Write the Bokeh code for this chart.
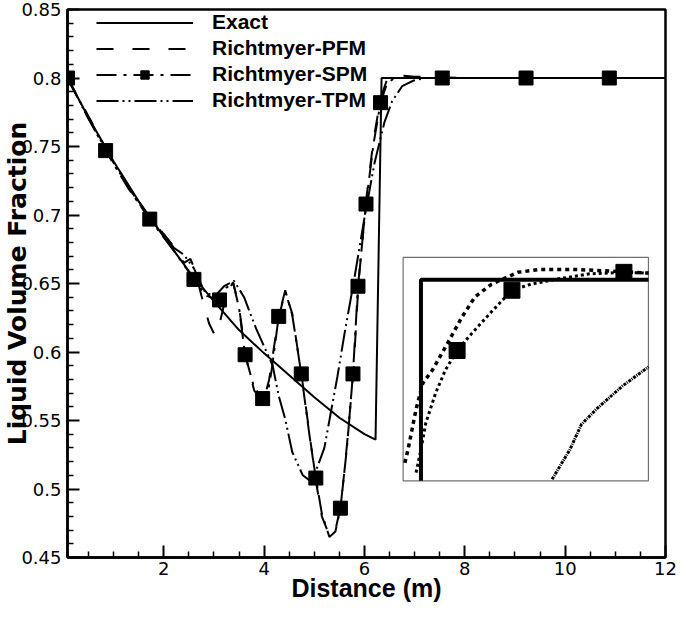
from bokeh.plotting import figure
from bokeh.models import Range1d, FixedTicker, Legend, LegendItem
from bokeh.embed import file_html
from bokeh.resources import INLINE

# ---------------- data ----------------
X_TICKS = [2, 4, 6, 8, 10, 12]
X_TICK_LABELS = ["2", "4", "6", "8", "10", "12"]
Y_TICKS = [0.45, 0.5, 0.55, 0.6, 0.65, 0.7, 0.75, 0.8, 0.85]
Y_TICK_LABELS = ["0.45", "0.5", "0.55", "0.6", "0.65", "0.7", "0.75", "0.8", "0.85"]

exact_x = [0.08, 0.5, 1.0, 1.5, 2.0, 2.5, 3.0, 3.5, 4.0, 4.5, 5.0, 5.5, 6.0, 6.22, 6.34, 12.0]
exact_y = [0.800, 0.771, 0.739, 0.710, 0.684, 0.659, 0.637, 0.616, 0.599, 0.583, 0.567, 0.552, 0.540, 0.536, 0.800, 0.800]

pfm_x = [0.08, 0.5, 0.9, 1.3, 1.7, 2.0, 2.2, 2.4, 2.53, 2.62, 2.75, 2.9, 3.02, 3.12, 3.25, 3.38,
         3.5, 3.63, 3.8, 3.98, 4.1, 4.28, 4.42, 4.56, 4.75, 5.03, 5.15, 5.3, 5.42, 5.53, 5.65,
         5.78, 5.88, 6.03, 6.18, 6.32, 6.45, 6.6, 7.0, 8.0, 12.0]
pfm_y = [0.800, 0.772, 0.745, 0.721, 0.699, 0.686, 0.677, 0.665, 0.668, 0.660, 0.641, 0.621, 0.612, 0.622, 0.642, 0.651,
         0.633, 0.597, 0.572, 0.563, 0.580, 0.624, 0.644, 0.628, 0.582, 0.506, 0.480, 0.466, 0.470, 0.488, 0.532,
         0.586, 0.650, 0.710, 0.755, 0.785, 0.799, 0.802, 0.801, 0.800, 0.800]

spm_x = [0.08, 0.5, 0.84, 1.3, 1.72, 2.2, 2.6, 2.85, 3.11, 3.25, 3.38, 3.5, 3.62, 3.8, 3.97, 4.05,
         4.15, 4.29, 4.42, 4.56, 4.74, 4.9, 5.03, 5.15, 5.3, 5.42, 5.52, 5.65, 5.77, 5.87, 6.03,
         6.18, 6.32, 6.45, 6.6, 7.55, 9.22, 10.88, 12.0]
spm_y = [0.800, 0.771, 0.747, 0.719, 0.697, 0.674, 0.653, 0.641, 0.638, 0.647, 0.651, 0.632, 0.598, 0.574, 0.566, 0.565,
         0.587, 0.626, 0.645, 0.627, 0.584, 0.540, 0.508, 0.482, 0.465, 0.469, 0.486, 0.530, 0.584, 0.648, 0.708,
         0.752, 0.782, 0.796, 0.800, 0.800, 0.800, 0.800, 0.800]
spm_marker_x = [0.08, 0.84, 1.72, 2.60, 3.11, 3.62, 3.97, 4.29, 4.74, 5.03, 5.52, 5.77, 5.87, 6.03, 6.32, 7.55, 9.22, 10.88]
spm_marker_y = [0.800, 0.747, 0.697, 0.653, 0.638, 0.598, 0.566, 0.626, 0.584, 0.508, 0.486, 0.584, 0.648, 0.708, 0.782, 0.800, 0.800, 0.800]

tpm_x = [0.08, 0.5, 0.9, 1.3, 1.7, 2.0, 2.2, 2.4, 2.6, 2.8, 3.0, 3.2, 3.4, 3.6, 3.84, 4.0, 4.17,
         4.29, 4.42, 4.56, 4.77, 4.95, 5.2, 5.46, 5.6, 5.79, 6.0, 6.2, 6.4, 6.55, 6.75, 6.97, 7.2, 12.0]
tpm_y = [0.800, 0.770, 0.744, 0.720, 0.698, 0.686, 0.676, 0.671, 0.661, 0.645, 0.640, 0.648, 0.652, 0.640, 0.617, 0.604, 0.590,
         0.568, 0.551, 0.527, 0.510, 0.505, 0.530, 0.582, 0.613, 0.652, 0.698, 0.738, 0.768, 0.783, 0.794, 0.798, 0.800, 0.800]

# inset (magnified corner of the shock)
inset_exact_x = [6.34, 6.34, 6.85]
inset_exact_y = [0.773, 0.800, 0.800]
inset_pfm_x = [6.304, 6.311, 6.329, 6.344, 6.366, 6.399, 6.432, 6.461, 6.498, 6.557, 6.608, 6.681, 6.755, 6.85]
inset_pfm_y = [0.7754, 0.7772, 0.7826, 0.7861, 0.7879, 0.7914, 0.7950, 0.7977, 0.7994, 0.8010, 0.8014, 0.8014, 0.8012, 0.8009]
inset_spm_x = [6.329, 6.340, 6.351, 6.373, 6.395, 6.421, 6.454, 6.498, 6.544, 6.586, 6.645, 6.718, 6.795, 6.85]
inset_spm_y = [0.7741, 0.7772, 0.7808, 0.7848, 0.7879, 0.7905, 0.7928, 0.7957, 0.7986, 0.7994, 0.8001, 0.8008, 0.8010, 0.8009]
inset_spm_marker_x = [6.421, 6.544, 6.795]
inset_spm_marker_y = [0.7905, 0.7986, 0.8010]
inset_tpm_x = [6.634, 6.674, 6.700, 6.733, 6.791, 6.85]
inset_tpm_y = [0.7732, 0.7772, 0.7806, 0.7826, 0.7857, 0.7883]

# ---------------- layout constants ----------------
X_START, X_END = 0.08, 12.0
Y_START, Y_END = 0.45, 0.85
INSET_X = (6.30, 6.85)          # inset data range
INSET_Y = (0.773, 0.803)
BOX_L, BOX_R, BOX_B, BOX_T = 6.77, 11.66, 0.506, 0.669   # inset box in main coordinates

TICK_FONT = "DejaVu Sans"

p = figure(width=677, height=606, output_backend="svg", toolbar_location=None,
           x_range=Range1d(X_START, X_END), y_range=Range1d(Y_START, Y_END),
           min_border_left=61, min_border_right=12, min_border_top=9, min_border_bottom=49)
p.background_fill_color = "white"
p.border_fill_color = "white"
p.grid.visible = False
p.outline_line_color = "black"
p.outline_line_width = 2.5

# extra ranges so the inset data maps onto the inset box
sx = (INSET_X[1] - INSET_X[0]) / (BOX_R - BOX_L)
sy = (INSET_Y[1] - INSET_Y[0]) / (BOX_T - BOX_B)
p.extra_x_ranges = {"ix": Range1d(INSET_X[0] - (BOX_L - X_START) * sx, INSET_X[1] + (X_END - BOX_R) * sx)}
p.extra_y_ranges = {"iy": Range1d(INSET_Y[0] - (BOX_B - Y_START) * sy, INSET_Y[1] + (Y_END - BOX_T) * sy)}

# axes
x_minor = [0.5 * i for i in range(1, 24) if i % 4 != 0]
y_minor = [round(0.45 + 0.01 * i, 2) for i in range(1, 40) if i % 5 != 0]
p.xaxis.ticker = FixedTicker(ticks=X_TICKS, minor_ticks=x_minor)
p.yaxis.ticker = FixedTicker(ticks=Y_TICKS, minor_ticks=y_minor)
p.xaxis.major_label_overrides = {t: l for t, l in zip(X_TICKS, X_TICK_LABELS)}
p.yaxis.major_label_overrides = {t: l for t, l in zip(Y_TICKS, Y_TICK_LABELS)}
for ax in (p.xaxis, p.yaxis):
    ax.axis_line_width = 2.5
    ax.axis_line_color = "black"
    ax.major_tick_in = 12
    ax.major_tick_out = 0
    ax.minor_tick_in = 6
    ax.minor_tick_out = 0
    ax.major_tick_line_width = 2
    ax.minor_tick_line_width = 1.5
    ax.major_tick_line_color = "black"
    ax.minor_tick_line_color = "black"
    ax.major_label_text_font = TICK_FONT
    ax.major_label_text_font_size = "18px"
    ax.major_label_text_color = "black"
    ax.axis_label_text_font_style = "bold"
    ax.axis_label_text_color = "black"
p.yaxis.major_label_standoff = 6
p.xaxis.major_label_standoff = 4

p.yaxis.axis_label = "Liquid Volume Fraction"
p.yaxis.axis_label_text_font = "DejaVu Sans"
p.yaxis.axis_label_text_font_size = "25px"
p.yaxis.axis_label_standoff = -14

p.xaxis.axis_label = "Distance (m)"
p.xaxis.axis_label_text_font = "Liberation Sans"
p.xaxis.axis_label_text_font_size = "25px"
p.xaxis.axis_label_standoff = -4

# main curves
r_exact = p.line(exact_x, exact_y, line_color="black", line_width=2)
r_pfm = p.line(pfm_x, pfm_y, line_color="black", line_width=2, line_dash="17 19")
r_spm = p.line(spm_x, spm_y, line_color="black", line_width=2, line_dash="20 7 3 7")
r_spm_m = p.scatter(spm_marker_x, spm_marker_y, marker="square", size=14, color="black")
r_tpm = p.line(tpm_x, tpm_y, line_color="black", line_width=2, line_dash="22 4 2 4 2 4")

# inset
p.quad(left=[BOX_L], right=[BOX_R], bottom=[BOX_B], top=[BOX_T],
       fill_color="white", line_color="#707070", line_width=1.2)
ik = dict(x_range_name="ix", y_range_name="iy")
p.line(inset_tpm_x, inset_tpm_y, line_color="black", line_width=3, line_dash="3 1 1 1", **ik)
p.line(inset_spm_x, inset_spm_y, line_color="black", line_width=3, line_dash="3 3", **ik)
p.line(inset_pfm_x, inset_pfm_y, line_color="black", line_width=3.5, line_dash="4 4", **ik)
p.line(inset_exact_x, inset_exact_y, line_color="black", line_width=4, **ik)
p.scatter(inset_spm_marker_x, inset_spm_marker_y, marker="square", size=16, color="black", **ik)

legend = Legend(items=[
    LegendItem(label="Exact", renderers=[r_exact]),
    LegendItem(label="Richtmyer-PFM", renderers=[r_pfm]),
    LegendItem(label="Richtmyer-SPM", renderers=[r_spm, r_spm_m]),
    LegendItem(label="Richtmyer-TPM", renderers=[r_tpm]),
], location=(29, 445))
legend.margin = 0
legend.padding = 0
legend.spacing = 2
legend.glyph_width = 97
legend.glyph_height = 21
legend.label_height = 21
legend.label_standoff = 19
legend.label_text_font = "Liberation Sans"
legend.label_text_font_style = "bold"
legend.label_text_font_size = "21px"
legend.label_text_color = "black"
legend.border_line_alpha = 0
legend.background_fill_alpha = 0
p.add_layout(legend)

open("out.html", "w").write(file_html(p, INLINE))
